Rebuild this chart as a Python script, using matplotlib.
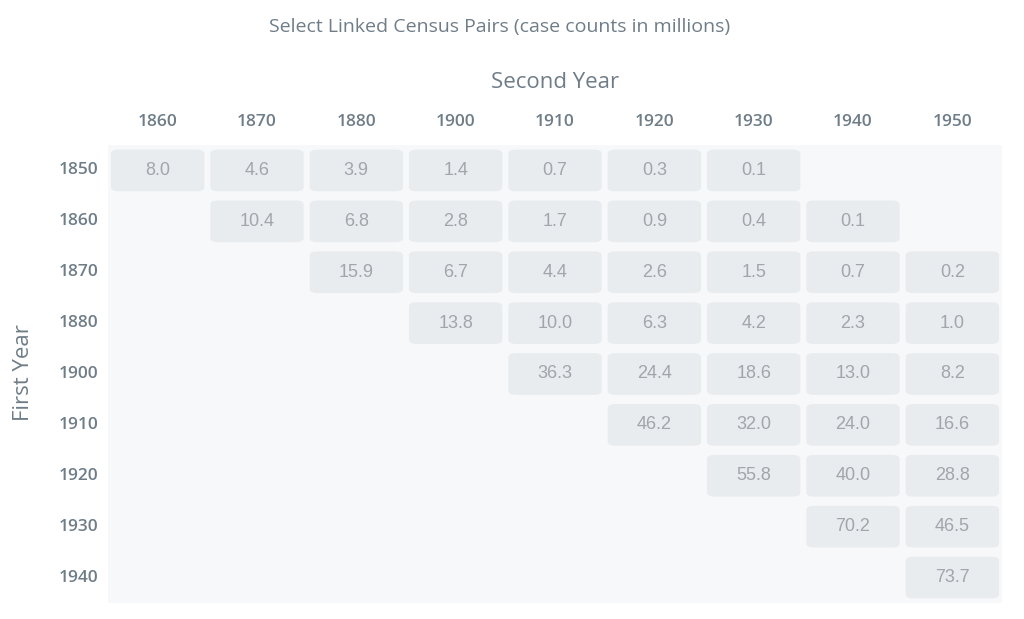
import matplotlib
matplotlib.use("Agg")
import matplotlib.pyplot as plt
from matplotlib.patches import FancyBboxPatch, Rectangle

second_years = ["1860","1870","1880","1900","1910","1920","1930","1940","1950"]
first_years = ["1850","1860","1870","1880","1900","1910","1920","1930","1940"]
row_1850 = [8.0,4.6,3.9,1.4,0.7,0.3,0.1,None,None]
row_1860 = [None,10.4,6.8,2.8,1.7,0.9,0.4,0.1,None]
row_1870 = [None,None,15.9,6.7,4.4,2.6,1.5,0.7,0.2]
row_1880 = [None,None,None,13.8,10.0,6.3,4.2,2.3,1.0]
row_1900 = [None,None,None,None,36.3,24.4,18.6,13.0,8.2]
row_1910 = [None,None,None,None,None,46.2,32.0,24.0,16.6]
row_1920 = [None,None,None,None,None,None,55.8,40.0,28.8]
row_1930 = [None,None,None,None,None,None,None,70.2,46.5]
row_1940 = [None,None,None,None,None,None,None,None,73.7]
values = [row_1850,row_1860,row_1870,row_1880,row_1900,row_1910,row_1920,row_1930,row_1940]

W,H = 1024,619
fig = plt.figure(figsize=(W/100,H/100), dpi=100, facecolor="white")
ax = fig.add_axes([108/W, 16/H, 894/W, 458/H])
ax.set_xlim(0,9); ax.set_ylim(9,0); ax.axis("off")
ax.add_patch(Rectangle((0,0),9,9,facecolor="#f7f8fa",edgecolor="none"))
lab = "#6f7d88"
for i,row in enumerate(values):
    for j,v in enumerate(row):
        if v is None: continue
        w,h = 0.94,0.82
        ax.add_patch(FancyBboxPatch((j+0.5-w/2+0.05, i+0.5-h/2+0.05), w-0.1, h-0.1,
                     boxstyle="round,pad=0.05,rounding_size=0.08",
                     facecolor="#e9ecef", edgecolor="none"))
        ax.text(j+0.5, i+0.5, f"{v:.1f}", ha="center", va="center",
                fontsize=13, color="#a0a6ab", family="Liberation Sans")
for j,s in enumerate(second_years):
    ax.text(j+0.5, -0.45, s, ha="center", va="center", fontsize=12.5, color=lab,
            family="Open Sans", weight="semibold")
for i,f in enumerate(first_years):
    ax.text(-0.1, i+0.5, f, ha="right", va="center", fontsize=12.5, color=lab,
            family="Open Sans", weight="semibold")
fig.text(555/W, 1-82/H, "Second Year", ha="center", va="center", fontsize=16, color=lab, family="Open Sans")
fig.text(24/W, 1-373/H, "First Year", ha="center", va="center", fontsize=16, color=lab, rotation=90, family="Open Sans")
fig.text(500/W, 1-27/H, "Select Linked Census Pairs (case counts in millions)", ha="center", va="center",
         fontsize=14, color=lab, family="Open Sans")
fig.savefig("out.png", dpi=100, facecolor="white")
